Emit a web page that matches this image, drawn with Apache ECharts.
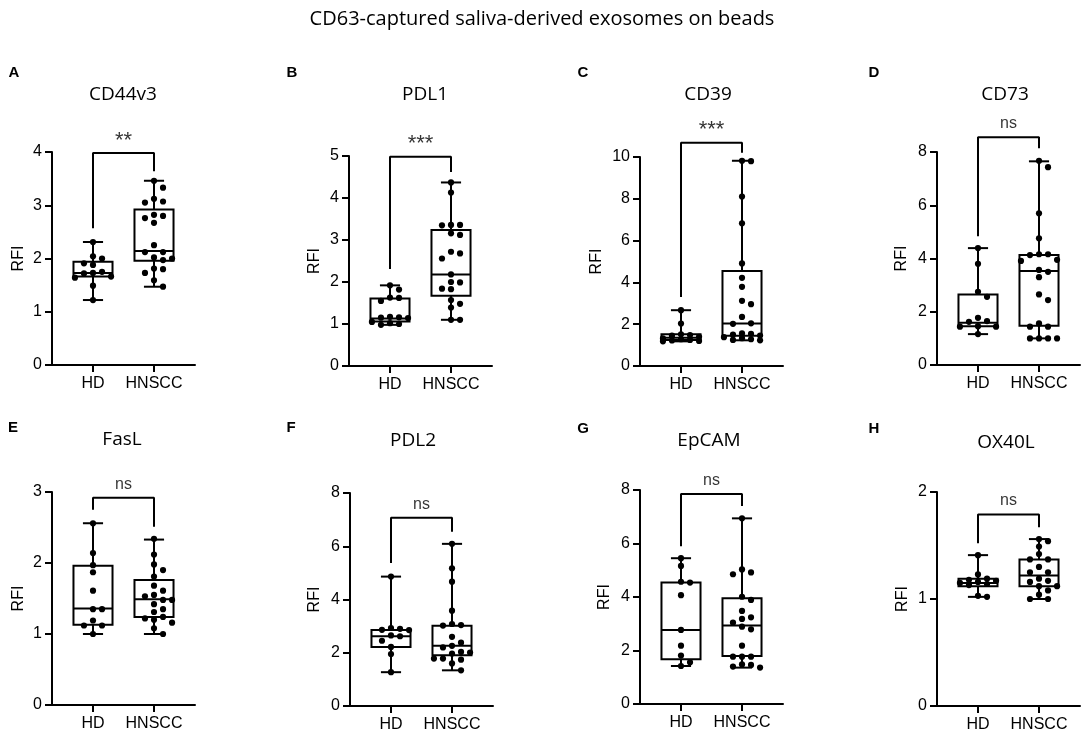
<!DOCTYPE html>
<html><head><meta charset="utf-8">
<script src="https://cdn.jsdelivr.net/npm/echarts@6/dist/echarts.min.js"></script>
<style>html,body{margin:0;padding:0;background:#fff}#c{width:1084px;height:737px}</style>
</head><body><div id="c"></div>
<script>
// ---------- data ----------
const mainTitle = 'CD63-captured saliva-derived exosomes on beads';
const groups = ['HD', 'HNSCC'];
const markers = ['CD44v3', 'PDL1', 'CD39', 'CD73', 'FasL', 'PDL2', 'EpCAM', 'OX40L'];
const letters = ['A', 'B', 'C', 'D', 'E', 'F', 'G', 'H'];
const yMaxes = [4, 5, 10, 8, 3, 8, 8, 2];
const ySteps = [1, 1, 2, 2, 1, 2, 2, 1];
const sigLabels = ['**', '***', '***', 'ns', 'ns', 'ns', 'ns', 'ns'];

// individual points
const cd44v3HD = [2.31, 2.04, 2.0, 1.91, 1.88, 1.75, 1.73, 1.72, 1.66, 1.64, 1.49, 1.22];
const cd44v3HN = [3.46, 3.33, 3.12, 3.07, 3.05, 2.82, 2.8, 2.76, 2.67, 2.25, 2.12, 2.12, 2.02, 2.0, 1.97, 1.81, 1.8, 1.73, 1.59, 1.47];
const pdl1HD = [1.92, 1.82, 1.63, 1.62, 1.55, 1.17, 1.16, 1.15, 1.14, 1.05, 1.02, 1.0, 0.98];
const pdl1HN = [4.37, 4.13, 3.36, 3.36, 3.35, 3.16, 3.12, 2.72, 2.68, 2.56, 2.18, 2.0, 1.99, 1.84, 1.83, 1.57, 1.48, 1.39, 1.1, 1.1];
const cd39HD = [2.67, 2.03, 1.52, 1.48, 1.45, 1.4, 1.32, 1.28, 1.25, 1.22, 1.2, 1.18];
const cd39HN = [9.82, 9.8, 8.11, 6.83, 4.91, 4.22, 3.79, 3.12, 2.96, 2.35, 2.04, 2.02, 1.56, 1.54, 1.5, 1.46, 1.38, 1.33, 1.28, 1.25, 1.23];
const cd73HD = [4.39, 3.8, 2.75, 2.56, 1.77, 1.65, 1.62, 1.46, 1.44, 1.44, 1.16];
const cd73HN = [7.67, 7.43, 5.7, 4.76, 4.16, 4.16, 4.13, 3.95, 3.91, 3.57, 3.5, 3.3, 2.65, 2.44, 1.56, 1.44, 1.44, 1.0, 1.0, 1.0, 1.0];
const faslHD = [2.56, 2.14, 1.97, 1.87, 1.61, 1.35, 1.35, 1.19, 1.12, 1.12, 1.0];
const faslHN = [2.34, 2.12, 1.98, 1.9, 1.81, 1.68, 1.61, 1.55, 1.53, 1.48, 1.48, 1.42, 1.35, 1.31, 1.24, 1.22, 1.2, 1.16, 1.08, 1.0];
const pdl2HD = [4.86, 2.93, 2.9, 2.86, 2.85, 2.65, 2.62, 2.45, 2.22, 1.95, 1.27];
const pdl2HN = [6.09, 5.17, 4.67, 3.58, 3.08, 3.04, 3.02, 2.6, 2.38, 2.26, 2.2, 2.03, 2.01, 1.97, 1.78, 1.78, 1.74, 1.6, 1.34];
const epcamHD = [5.45, 5.16, 4.57, 4.54, 4.07, 2.77, 2.18, 1.81, 1.56, 1.42];
const epcamHN = [6.94, 5.03, 4.92, 4.85, 4.01, 3.89, 3.48, 3.24, 3.18, 3.04, 2.89, 2.79, 2.18, 1.77, 1.77, 1.77, 1.48, 1.46, 1.4, 1.36];
const ox40lHD = [1.41, 1.23, 1.19, 1.18, 1.17, 1.16, 1.15, 1.14, 1.13, 1.03, 1.02];
const ox40lHN = [1.56, 1.54, 1.49, 1.42, 1.37, 1.37, 1.3, 1.25, 1.25, 1.19, 1.17, 1.16, 1.12, 1.12, 1.08, 1.04, 1.0, 1.0];

// box stats [min, Q1, median, Q3, max]
const cd44v3HDBox = [1.22, 1.66, 1.73, 1.94, 2.31];
const cd44v3HNBox = [1.47, 1.96, 2.14, 2.92, 3.46];
const pdl1HDBox = [0.98, 1.06, 1.13, 1.61, 1.92];
const pdl1HNBox = [1.1, 1.67, 2.18, 3.24, 4.37];
const cd39HDBox = [1.18, 1.25, 1.35, 1.52, 2.67];
const cd39HNBox = [1.23, 1.45, 2.03, 4.54, 9.82];
const cd73HDBox = [1.16, 1.46, 1.59, 2.65, 4.39];
const cd73HNBox = [1.0, 1.47, 3.53, 4.13, 7.65];
const faslHDBox = [1.0, 1.13, 1.36, 1.96, 2.56];
const faslHNBox = [1.0, 1.24, 1.49, 1.76, 2.33];
const pdl2HDBox = [1.27, 2.22, 2.62, 2.85, 4.86];
const pdl2HNBox = [1.34, 1.91, 2.26, 3.01, 6.09];
const epcamHDBox = [1.42, 1.67, 2.77, 4.54, 5.45];
const epcamHNBox = [1.36, 1.79, 2.93, 3.95, 6.94];
const ox40lHDBox = [1.02, 1.12, 1.15, 1.19, 1.41];
const ox40lHNBox = [1.0, 1.12, 1.22, 1.37, 1.56];

// significance brackets [left leg end, bar level, right leg end]
const sigBrackets = [
  [2.57, 3.98, 3.64], [2.31, 4.98, 4.62], [3.3, 10.68, 10.2], [4.84, 8.55, 8.14],
  [2.75, 2.92, 2.51], [5.37, 7.07, 6.54], [5.9, 7.85, 7.4], [1.52, 1.79, 1.67]
];

const points = [
  [cd44v3HD, cd44v3HN], [pdl1HD, pdl1HN], [cd39HD, cd39HN], [cd73HD, cd73HN],
  [faslHD, faslHN], [pdl2HD, pdl2HN], [epcamHD, epcamHN], [ox40lHD, ox40lHN]
];
const boxes = [
  [cd44v3HDBox, cd44v3HNBox], [pdl1HDBox, pdl1HNBox], [cd39HDBox, cd39HNBox], [cd73HDBox, cd73HNBox],
  [faslHDBox, faslHNBox], [pdl2HDBox, pdl2HNBox], [epcamHDBox, epcamHNBox], [ox40lHDBox, ox40lHNBox]
];

// ---------- layout ----------
const layout = [
  {left: 52, top: 152, h: 213, gap: 25, tx: 123, ty: 95, lx: 14, ly: 73},
  {left: 349, top: 156, h: 210, gap: 26, tx: 425, ty: 95, lx: 292, ly: 73},
  {left: 640, top: 157, h: 209, gap: 35, tx: 708, ty: 95, lx: 583, ly: 73},
  {left: 937, top: 152, h: 213, gap: 27, tx: 1005, ty: 95, lx: 874, ly: 73},
  {left: 52, top: 492, h: 213, gap: 25, tx: 122, ty: 440, lx: 13, ly: 428},
  {left: 350, top: 493, h: 213, gap: 27, tx: 413, ty: 441, lx: 291, ly: 428},
  {left: 640, top: 490, h: 214, gap: 27, tx: 709, ty: 441, lx: 583, ly: 429},
  {left: 937, top: 492, h: 214, gap: 26, tx: 1006, ty: 443, lx: 874, ly: 429}
];
const PW = 143;
const FONT = 'Liberation Sans, Arial, sans-serif';
const axisLine = {color: '#000', width: 2};

const grids = [], xAxes = [], yAxes = [], series = [], graphics = [];

graphics.push({type: 'text', x: 542, y: 19, style: {text: mainTitle, font: '20px "Open Sans"', fill: '#000', align: 'center', verticalAlign: 'middle'}});

// beeswarm placement in pixel space, capped to ±2 columns (overlap allowed when crowded)
function swarm(vals, api, xc, step, dist) {
  const cx0 = api.coord([xc, 0])[0];
  const arr = vals.map(v => api.coord([xc, v])[1]).sort((a, b) => a - b);
  const placed = [];
  const order = [0, 1, -1, 2, -2];
  arr.forEach(y => {
    let best = null, bestD = -1;
    for (const k of order) {
      const x = cx0 + k * step;
      let md = Infinity;
      placed.forEach(q => { md = Math.min(md, Math.hypot(q.x - x, q.y - y)); });
      if (md >= dist) { best = x; break; }
      if (md > bestD + 0.5) { bestD = md; best = x; }
    }
    placed.push({x: best, y});
  });
  return placed;
}

function makeRender(pi) {
  return function (params, api) {
    const gi = params.dataIndex;
    const xc = api.value(0);
    const b = [api.value(1), api.value(2), api.value(3), api.value(4), api.value(5)];
    const py = b.map(v => api.coord([xc, v])[1]);
    const cx = api.coord([xc, b[0]])[0];
    const hw = api.size([0.32, 0])[0];
    const cw = api.size([0.165, 0])[0];
    const step = api.size([0.148, 0])[0];
    const ls = {stroke: '#000', lineWidth: 2, fill: null};
    const ch = [
      {type: 'line', shape: {x1: cx, y1: py[3], x2: cx, y2: py[4]}, style: ls},
      {type: 'line', shape: {x1: cx, y1: py[1], x2: cx, y2: py[0]}, style: ls},
      {type: 'line', shape: {x1: cx - cw, y1: py[4], x2: cx + cw, y2: py[4]}, style: ls},
      {type: 'line', shape: {x1: cx - cw, y1: py[0], x2: cx + cw, y2: py[0]}, style: ls},
      {type: 'rect', shape: {x: cx - hw, y: py[3], width: 2 * hw, height: py[1] - py[3]}, style: {stroke: '#000', lineWidth: 2, fill: '#fff'}},
      {type: 'line', shape: {x1: cx - hw, y1: py[2], x2: cx + hw, y2: py[2]}, style: ls}
    ];
    swarm(points[pi][gi], api, xc, step, 7).forEach(p => {
      ch.push({type: 'circle', shape: {cx: p.x, cy: p.y, r: 3.1}, style: {fill: '#000'}});
    });
    return {type: 'group', children: ch};
  };
}

layout.forEach((L, i) => {
  grids.push({left: L.left, top: L.top, width: PW, height: L.h, containLabel: false});
  xAxes.push({
    gridIndex: i, type: 'value', min: 0.328, max: 2.672,
    axisLine: {show: true, onZero: false, lineStyle: axisLine},
    axisTick: {show: true, customValues: [1, 2], length: 7, lineStyle: axisLine},
    axisLabel: {show: true, customValues: [1, 2], formatter: v => groups[Math.round(v) - 1], color: '#000', fontSize: 16, fontFamily: FONT, margin: 11},
    splitLine: {show: false}
  });
  yAxes.push({
    gridIndex: i, type: 'value', min: 0, max: yMaxes[i], interval: ySteps[i],
    name: 'RFI', nameLocation: 'middle', nameGap: L.gap, nameRotate: 90,
    nameTextStyle: {fontSize: 16, color: '#000', fontFamily: FONT},
    axisLine: {show: true, onZero: false, lineStyle: axisLine},
    axisTick: {show: true, length: 7, lineStyle: axisLine},
    axisLabel: {color: '#000', fontSize: 16, fontFamily: FONT, margin: 10},
    splitLine: {show: false}
  });
  series.push({
    type: 'custom', xAxisIndex: i, yAxisIndex: i, clip: false, silent: true,
    encode: {x: 0, y: [1, 2, 3, 4, 5]},
    data: [[1].concat(boxes[i][0]), [2].concat(boxes[i][1])],
    renderItem: makeRender(i)
  });
  const s = sigBrackets[i];
  series.push({
    type: 'line', xAxisIndex: i, yAxisIndex: i, clip: false, silent: true,
    symbol: 'none', lineStyle: {color: '#000', width: 2},
    data: [[1, s[0]], [1, s[1]], [2, s[1]], [2, s[2]]]
  });
  const star = sigLabels[i] !== 'ns';
  series.push({
    type: 'scatter', xAxisIndex: i, yAxisIndex: i, clip: false, silent: true,
    symbolSize: 1, itemStyle: {color: 'rgba(0,0,0,0)'},
    label: {show: true, position: 'top', distance: star ? 1 : 5, formatter: sigLabels[i], color: '#000',
      fontSize: star ? 22 : 16, fontFamily: FONT},
    data: [[1.5, s[1]]]
  });
  graphics.push({type: 'text', x: L.tx, y: L.ty, style: {text: markers[i], font: '19px "Open Sans"', fill: '#000', align: 'center', verticalAlign: 'middle'}});
  graphics.push({type: 'text', x: L.lx, y: L.ly, style: {text: letters[i], font: 'bold 15px ' + FONT, fill: '#000', align: 'center', verticalAlign: 'middle'}});
});

const chart = echarts.init(document.getElementById('c'), null, {renderer: 'canvas'});
chart.setOption({
  animation: false,
  backgroundColor: '#fff',
  grid: grids, xAxis: xAxes, yAxis: yAxes, series: series,
  graphic: {elements: graphics}
});
</script></body></html>
